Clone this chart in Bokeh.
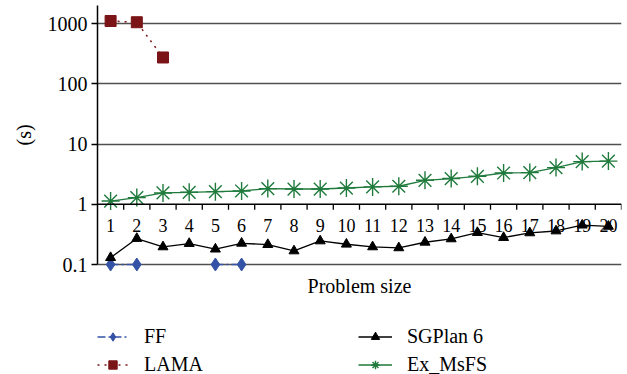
from bokeh.plotting import figure
from bokeh.models import (Range1d, FixedTicker, Span, Legend, LegendItem, Label, Title)
from bokeh.core.properties import value
from bokeh.embed import file_html
from bokeh.resources import INLINE

nan = float("nan")

# ---- data ----
categories = list(range(1, 21))
x_labels = [str(c) for c in categories]
ff = [0.1, 0.1, nan, nan, 0.1, 0.1] + [nan] * 14
lama = [1100, 1050, 273] + [nan] * 17
sgplan = [0.13, 0.27, 0.196, 0.223, 0.18, 0.225, 0.214, 0.168, 0.246, 0.217,
          0.196, 0.189, 0.234, 0.266, 0.339, 0.28, 0.335, 0.36, 0.45, 0.43]
exmsfs = [1.13, 1.29, 1.54, 1.58, 1.62, 1.66, 1.82, 1.79, 1.79, 1.86,
          1.94, 1.99, 2.5, 2.67, 2.91, 3.3, 3.35, 4.06, 5.1, 5.2]
y_ticks = [0.1, 1, 10, 100, 1000]
y_tick_labels = ["0.1", "1", "10", "100", "1000"]
series_names = ["FF", "LAMA", "SGPlan 6", "Ex_MsFS"]
x_title = "Problem size"
y_title = "(s)"

FONT = "Liberation Serif"
C_FF = "#3553a6"
C_LAMA = "#7a1416"
C_SG = "#000000"
C_EX = "#1f7a3c"

Y_TOP = 1990
Y_BOTTOM = 0.001494

p = figure(width=627, height=374, output_backend="svg", toolbar_location=None,
           y_axis_type="log",
           x_range=Range1d(0.5, 20.5), y_range=Range1d(Y_BOTTOM, Y_TOP),
           min_border_left=97, min_border_right=6, min_border_top=5,
           min_border_bottom=0)
p.outline_line_color = None
p.background_fill_color = "white"

# grid
p.xgrid.visible = False
p.ygrid.ticker = FixedTicker(ticks=[t for t in y_ticks if t != 1])
p.ygrid.grid_line_color = "#505050"
p.ygrid.grid_line_width = 1.6

# y axis
ya = p.yaxis[0]
ya.ticker = FixedTicker(ticks=y_ticks)
ya.major_label_overrides = dict(zip(y_ticks, y_tick_labels))
ya.bounds = (min(y_ticks), Y_TOP)
ya.minor_tick_line_color = None
ya.major_tick_out = 6
ya.major_tick_in = 0
ya.major_tick_line_width = 1.5
ya.axis_line_width = 1.5
ya.major_label_standoff = 4
ya.major_label_text_font = FONT
ya.major_label_text_font_size = "20px"
ya.major_label_text_color = "black"

# y title, placed beside the bounded part of the axis
p.add_layout(Title(text=y_title, align="left", vertical_align="middle",
                   offset=229, standoff=18, text_font=FONT, text_font_size="20px",
                   text_font_style="normal", text_color="black"), "left")

# bottom axis hidden (the frame reaches the bottom of the picture)
p.xaxis.visible = False

# category axis drawn at y = 1
p.add_layout(Span(location=1, dimension="width", line_color="black", line_width=1.5))
bounds = [c + 0.5 for c in categories]
tick_len = 10 ** (-5.5 / 60.25)
p.segment(x0=bounds, y0=[1] * len(bounds), x1=bounds, y1=[tick_len] * len(bounds),
          line_color="black", line_width=1.3)
p.text(x=categories, y=[1] * len(categories), text=x_labels,
       text_align="center", text_baseline="middle", y_offset=21,
       text_font=value(FONT), text_font_size="18px", text_color="black")

# x title
p.add_layout(Label(x=(categories[0] + categories[-1]) / 2, y=89, y_units="screen",
                   text=x_title, text_align="center", text_baseline="middle",
                   text_font=FONT, text_font_size="20px", text_color="black"))

# series
r_ff_l = p.line(categories, ff, line_color=C_FF, line_width=1.5, line_dash="8 3 2 3")
r_ff_m = p.scatter(categories, ff, marker="diamond", size=13,
                   fill_color=C_FF, line_color=C_FF)
r_la_l = p.line(categories, lama, line_color=C_LAMA, line_width=1.5, line_dash="2 5")
r_la_m = p.scatter(categories, lama, marker="square", size=11,
                   fill_color=C_LAMA, line_color=C_LAMA)
r_sg_l = p.line(categories, sgplan, line_color=C_SG, line_width=1.3)
r_sg_m = p.scatter(categories, sgplan, marker="triangle", size=10,
                   fill_color=C_SG, line_color=C_SG)
r_ex_l = p.line(categories, exmsfs, line_color=C_EX, line_width=1.3)
r_ex_m = p.scatter(categories, exmsfs, marker="asterisk", size=18,
                   line_color=C_EX, line_width=1.4)

def make_legend(items, loc, gw, standoff):
    lg = Legend(items=items, location=loc, orientation="vertical")
    lg.padding = 0
    lg.margin = 0
    lg.spacing = 5
    lg.border_line_color = None
    lg.background_fill_alpha = 0
    lg.glyph_width = gw
    lg.glyph_height = 21
    lg.label_standoff = standoff
    lg.label_text_font = FONT
    lg.label_text_font_size = "20px"
    lg.label_text_color = "black"
    return lg

leg1 = make_legend([LegendItem(label=series_names[0], renderers=[r_ff_l, r_ff_m]),
                    LegendItem(label=series_names[1], renderers=[r_la_l, r_la_m])],
                   (0, -2), 31, 16)
leg2 = make_legend([LegendItem(label=series_names[2], renderers=[r_sg_l, r_sg_m]),
                    LegendItem(label=series_names[3], renderers=[r_ex_l, r_ex_m])],
                   (261, -2), 34, 15)
p.add_layout(leg1)
p.add_layout(leg2)

open("out.html", "w").write(file_html(p, INLINE))
